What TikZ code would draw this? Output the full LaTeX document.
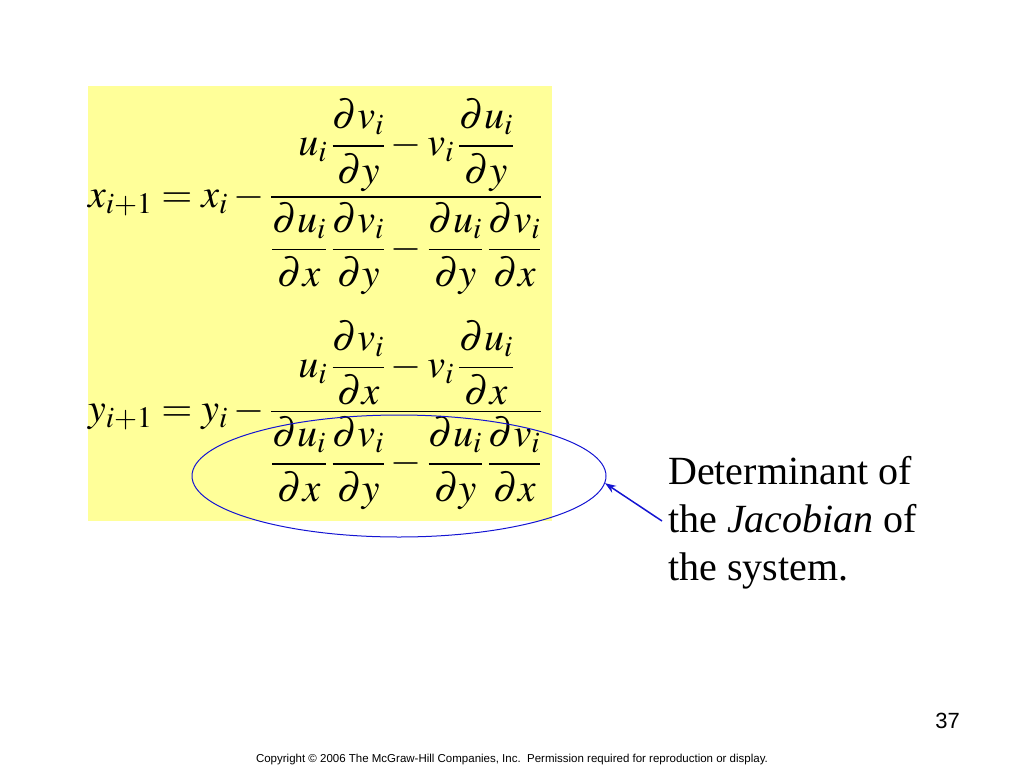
\documentclass[tikz,border=0pt]{standalone}
\usepackage{amsmath}
\usepackage{mathptmx}
\usepackage[no-math]{fontspec}
\setmainfont{Liberation Serif}
\newfontfamily\arialfont{Liberation Sans}
\usetikzlibrary{arrows.meta,positioning,shapes.geometric}
\definecolor{padyellow}{RGB}{255,255,153}
\definecolor{ringblue}{RGB}{20,20,210}

\begin{document}
\begin{tikzpicture}[x=1pt,y=-1pt,
    eq/.style={inner sep=0pt, anchor=west, font=\fontsize{40}{48}\selectfont},
    ring/.style={ellipse, draw=ringblue, line width=1pt, minimum width=414pt, minimum height=122pt, inner sep=0pt},
    note/.style={inner sep=0pt, align=left, font=\fontsize{40}{48}\selectfont},
    arrow/.style={ringblue, line width=1.5pt, -{Stealth[length=11pt,width=8pt]}}
]
\useasboundingbox (0,0) rectangle (1024,768);
\fill[padyellow] (88,86) rectangle (552,521);
% the two update formulas
\node[eq] (eqx) at (88,197) {$\displaystyle x_{i+1}=x_i-\frac{u_i\,\dfrac{\partial v_i}{\partial y}-v_i\,\dfrac{\partial u_i}{\partial y}}{\dfrac{\partial u_i}{\partial x}\,\dfrac{\partial v_i}{\partial y}-\dfrac{\partial u_i}{\partial y}\,\dfrac{\partial v_i}{\partial x}}$};
\node[eq] (eqy) at (88,415) {$\displaystyle y_{i+1}=y_i-\frac{u_i\,\dfrac{\partial v_i}{\partial x}-v_i\,\dfrac{\partial u_i}{\partial x}}{\dfrac{\partial u_i}{\partial x}\,\dfrac{\partial v_i}{\partial y}-\dfrac{\partial u_i}{\partial y}\,\dfrac{\partial v_i}{\partial x}}$};
\node[ring] (det) at (399,476) {};
\node[note, anchor=north west] (note) at (668,456) {Determinant of\\the \textit{Jacobian} of\\the system.};
\coordinate (tail) at (662,521);
\draw[arrow] (tail) -- (det.-2);
\node[font=\arialfont\fontsize{22}{26}\selectfont, inner sep=0pt, anchor=base east] (page) at (960,728) {37};
\node[font=\arialfont\fontsize{11.5}{14}\selectfont, inner sep=0pt, anchor=base] (copy) at (512,762) {Copyright \textcopyright{} 2006 The McGraw-Hill Companies, Inc.\ \ Permission required for reproduction or display.};
\end{tikzpicture}
\end{document}
